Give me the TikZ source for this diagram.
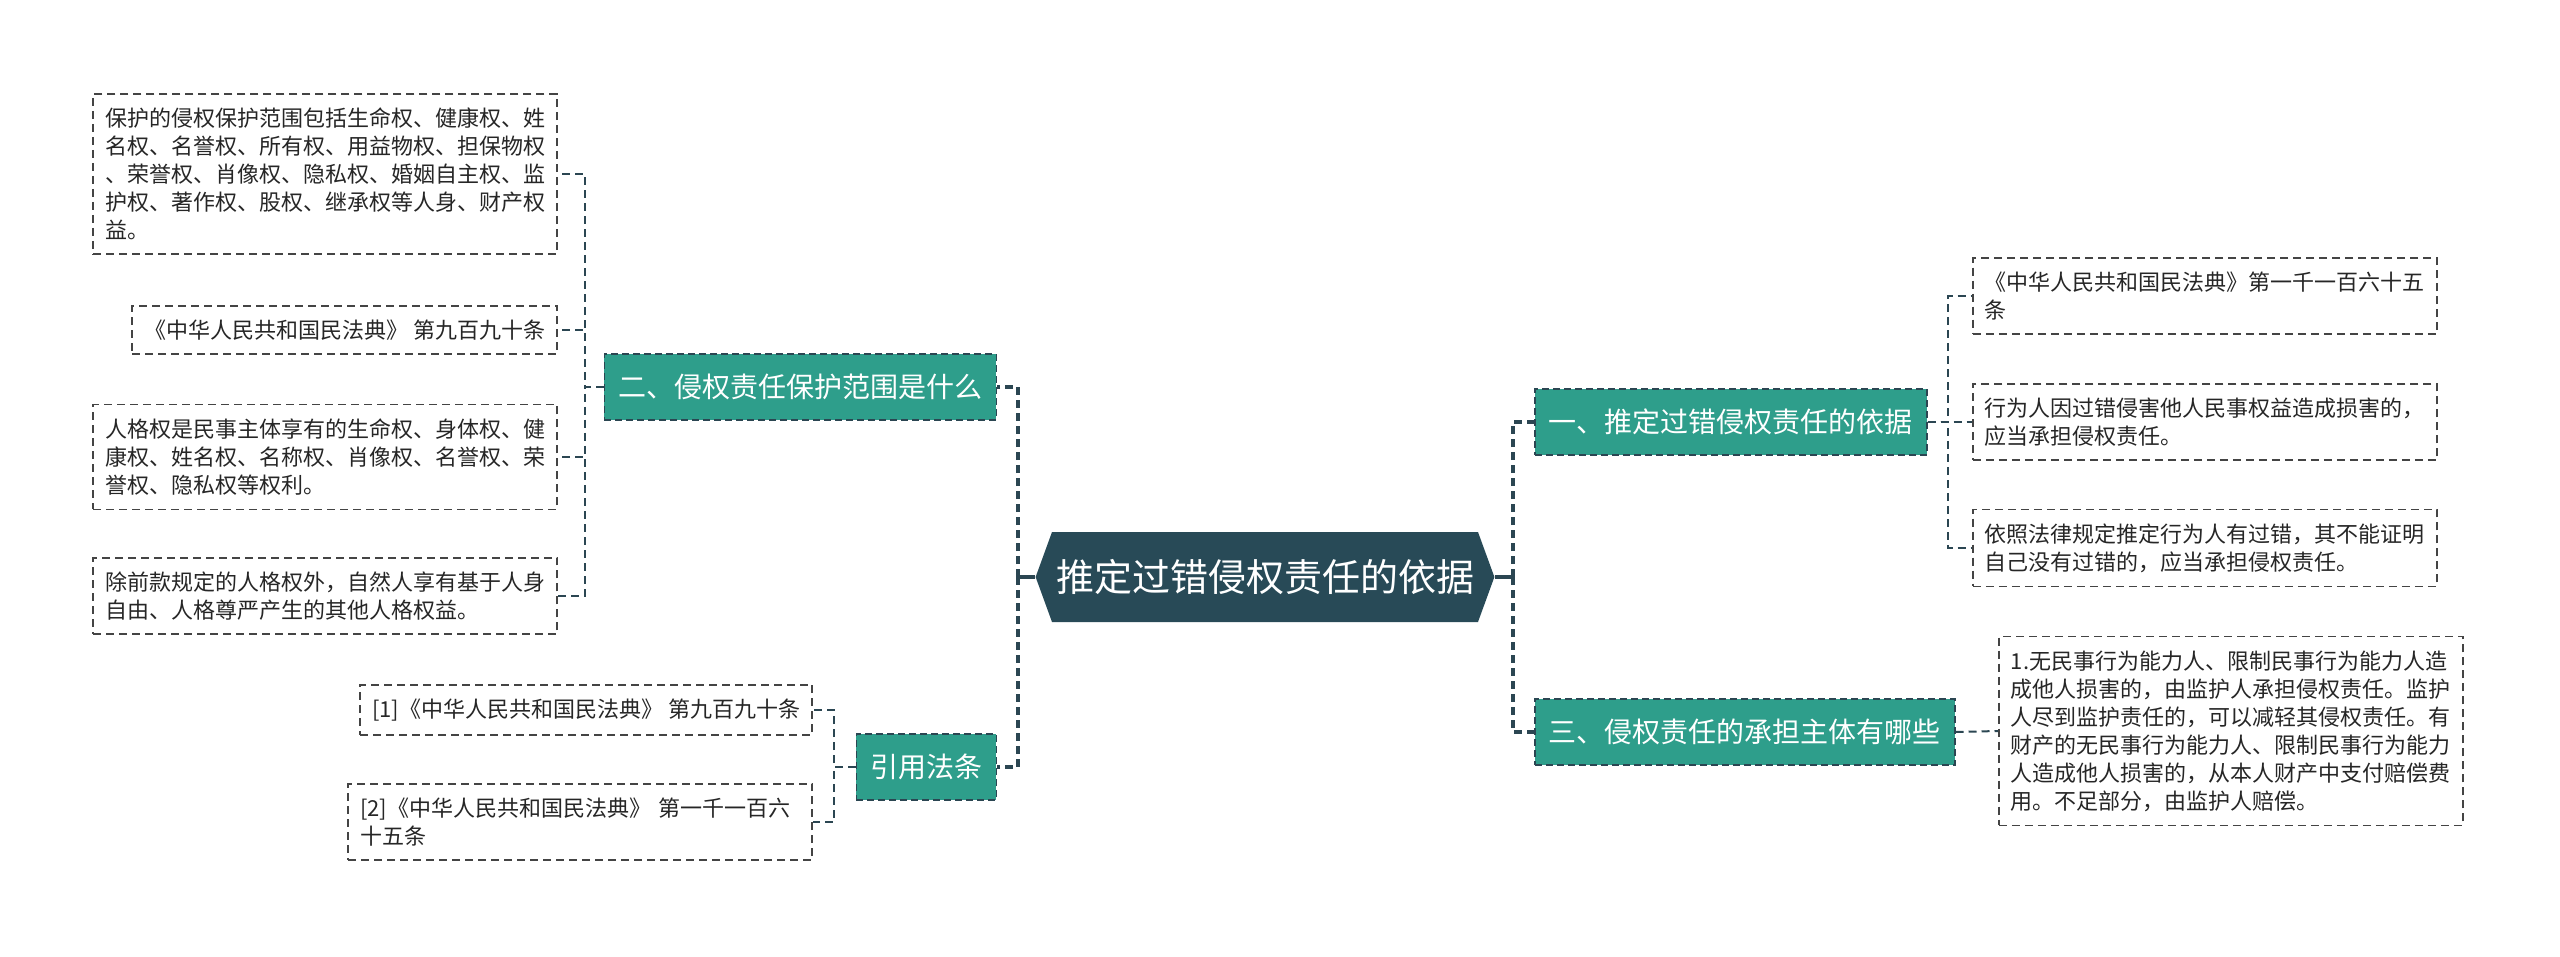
\documentclass[tikz,border=0pt]{standalone}
\usepackage{fontspec}
\setmainfont{Noto Sans CJK SC}
\usetikzlibrary{shapes.symbols}
\definecolor{rootfill}{HTML}{284A57}
\definecolor{branchfill}{HTML}{2E9E8B}
\definecolor{linedark}{HTML}{2B4652}
\definecolor{boxline}{HTML}{444444}
\definecolor{boxtext}{HTML}{262626}
\begin{document}
\begin{tikzpicture}[x=1pt,y=-1pt,
  root/.style={shape=signal, signal to=west and east, signal pointer angle=140,
    fill=rootfill, text=white, inner xsep=4pt, inner ysep=0pt,
    minimum height=90pt, font=\fontsize{38}{46}\selectfont},
  branch/.style={fill=branchfill, draw=linedark, dash pattern=on 7pt off 4pt,
    line width=1.5pt, text=white, inner xsep=14pt, minimum height=66pt,
    font=\fontsize{28}{34}\selectfont},
  leaf/.style={draw=boxline, dash pattern=on 8pt off 5pt, line width=1.6pt,
    text=boxtext, inner xsep=12pt, inner ysep=14pt, align=left,
    font=\fontsize{22}{28}\selectfont},
  widebox/.style={text width=440pt},
  trunk/.style={draw=linedark, line width=3.2pt},
  trunkbus/.style={trunk, dash pattern=on 8pt off 5pt},
  twig/.style={draw=linedark, line width=2pt, dash pattern=on 8pt off 5pt}]
  \useasboundingbox (0,0) rectangle (2560,957);

  % centre
  \node[root] (root) at (1265,577) {推定过错侵权责任的依据};

  % left side
  \node[branch, anchor=east] (n2) at (997,387) {二、侵权责任保护范围是什么};
  \node[branch, anchor=east] (cite) at (997,767) {引用法条};

  \node[leaf, widebox, anchor=east] (a1) at (558,174) {保护的侵权保护范围包括生命权、健康权、姓\\名权、名誉权、所有权、用益物权、担保物权\\、荣誉权、肖像权、隐私权、婚姻自主权、监\\护权、著作权、股权、继承权等人身、财产权\\益。};
  \node[leaf, anchor=east] (a2) at (558,330) {《中华人民共和国民法典》 第九百九十条};
  \node[leaf, widebox, anchor=east] (a3) at (558,457) {人格权是民事主体享有的生命权、身体权、健\\康权、姓名权、名称权、肖像权、名誉权、荣\\誉权、隐私权等权利。};
  \node[leaf, widebox, anchor=east] (a4) at (558,596) {除前款规定的人格权外，自然人享有基于人身\\自由、人格尊严产生的其他人格权益。};

  \node[leaf, anchor=east] (c1) at (813,710) {[1]《中华人民共和国民法典》 第九百九十条};
  \node[leaf, widebox, anchor=east] (c2) at (813,822) {[2]《中华人民共和国民法典》 第一千一百六\\十五条};

  % right side
  \node[branch, anchor=west] (n1) at (1534,422) {一、推定过错侵权责任的依据};
  \node[branch, anchor=west] (n3) at (1534,732) {三、侵权责任的承担主体有哪些};

  \node[leaf, widebox, anchor=west] (r1) at (1972,296) {《中华人民共和国民法典》第一千一百六十五\\条};
  \node[leaf, widebox, anchor=west] (r2) at (1972,422) {行为人因过错侵害他人民事权益造成损害的，\\应当承担侵权责任。};
  \node[leaf, widebox, anchor=west] (r3) at (1972,548) {依照法律规定推定行为人有过错，其不能证明\\自己没有过错的，应当承担侵权责任。};
  \node[leaf, widebox, anchor=west] (r4) at (1998,731) {1.无民事行为能力人、限制民事行为能力人造\\成他人损害的，由监护人承担侵权责任。监护\\人尽到监护责任的，可以减轻其侵权责任。有\\财产的无民事行为能力人、限制民事行为能力\\人造成他人损害的，从本人财产中支付赔偿费\\用。不足部分，由监护人赔偿。};

  % connectors
  \coordinate (lj) at (1018,577);
  \coordinate (rj) at (1513,577);
  \draw[trunk] (root.west) -- (lj);
  \draw[trunk] (root.east) -- (rj);
  \draw[trunkbus] (lj) |- (n2.east);
  \draw[trunkbus] (lj) |- (cite.east);
  \draw[trunkbus] (rj) |- (n1.west);
  \draw[trunkbus] (rj) |- (n3.west);

  \foreach \leafname in {a1,a2,a3,a4}
    \draw[twig] (n2.west) -- ++(-19,0) |- (\leafname.east);
  \foreach \leafname in {c1,c2}
    \draw[twig] (cite.west) -- ++(-22,0) |- (\leafname.east);
  \foreach \leafname in {r1,r2,r3}
    \draw[twig] (n1.east) -- ++(20,0) |- (\leafname.west);
  \draw[twig] (n3.east) -- (r4.west);
\end{tikzpicture}
\end{document}
